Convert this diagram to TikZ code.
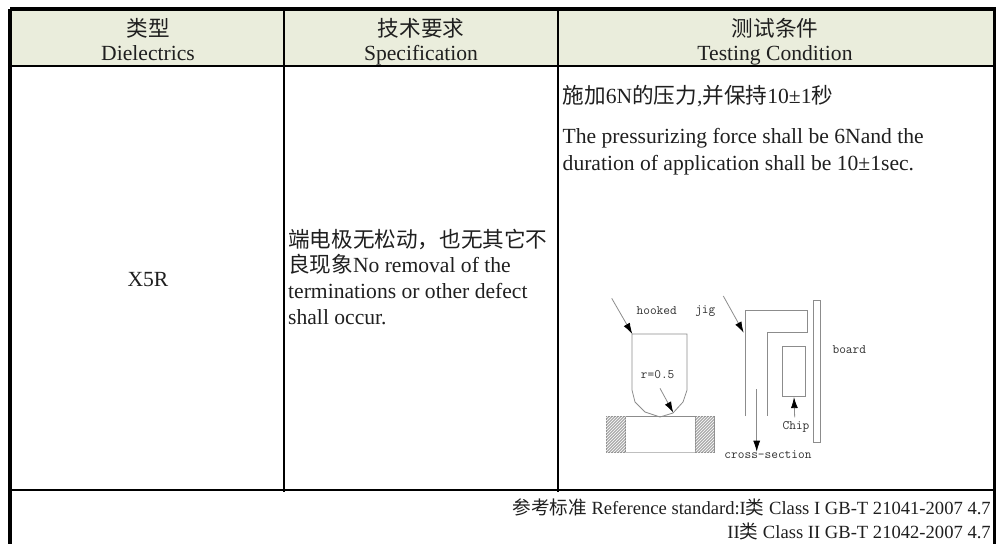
\documentclass[tikz,border=0pt]{standalone}
\usepackage{fontspec}
\setmainfont{Liberation Serif}
\newfontfamily\cjk{Noto Sans CJK SC}
\setmonofont{Latin Modern Mono}
\usetikzlibrary{arrows.meta,patterns}
\definecolor{headfill}{HTML}{EAEDDC}
\definecolor{drawgray}{HTML}{8C8C8C}
\definecolor{labelgray}{HTML}{303030}
\newcommand{\cn}[1]{{\cjk #1}}
\tikzset{
  x=1pt,y=-1pt,
  txt/.style={inner sep=0pt,font=\fontsize{21.6}{24}\selectfont,text=black!88},
  headtxt/.style={txt,anchor=base},
  lefttxt/.style={txt,anchor=base west},
  righttxt/.style={txt,anchor=base east,font=\fontsize{18.6}{22}\selectfont},
  thickrule/.style={line width=4pt,black},
  thinrule/.style={line width=2pt,black},
  drawline/.style={line width=0.8pt,drawgray},
  leader/.style={drawline,-{Latex[black,length=11pt,width=7pt]}},
  lbl/.style={inner sep=0pt,anchor=center,text=labelgray,font=\ttfamily\fontsize{13}{13}\selectfont},
  hatchbox/.style={draw=drawgray,line width=0.6pt,fill=black!32},
}
\begin{document}
\begin{tikzpicture}
\useasboundingbox (0,0) rectangle (996,544);
% header
\fill[headfill] (12,11) rectangle (993,66);
% rules
\coordinate (tl) at (10,9); \coordinate (tr) at (996,9);
\coordinate (bl) at (10,544); \coordinate (br) at (994.5,544);
\coordinate (trb) at (994.5,9);
\coordinate (hl) at (10,66); \coordinate (hr) at (994,66);
\coordinate (fl) at (10,490); \coordinate (fr) at (994,490);
\coordinate (c1t) at (284,9); \coordinate (c1b) at (284,492);
\coordinate (c2t) at (558,9); \coordinate (c2b) at (558,492);
\draw[thickrule] (tl) -- (tr);
\draw[thickrule] (tl) -- (bl);
\draw[thickrule] (trb) -- (br);
\draw[thinrule] (hl) -- (hr);
\draw[thinrule] (fl) -- (fr);
\draw[thinrule] (c1t) -- (c1b);
\draw[thinrule] (c2t) -- (c2b);
% headers
\node[headtxt] (h1a) at (148,36) {\cn{类型}};
\node[headtxt] (h1b) at (148,60) {Dielectrics};
\node[headtxt] (h2a) at (421,36) {\cn{技术要求}};
\node[headtxt] (h2b) at (421,60) {Specification};
\node[headtxt] (h3a) at (775,36) {\cn{测试条件}};
\node[headtxt] (h3b) at (775,60) {Testing Condition};
% body
\node[headtxt] (x5r) at (148,286) {X5R};
\node[lefttxt] (s1) at (288,247) {\cn{端电极无松动，也无其它不}};
\node[lefttxt] (s2) at (288,272) {\cn{良现象}No removal of the};
\node[lefttxt] (s3) at (288,298) {terminations or other defect};
\node[lefttxt] (s4) at (288,324) {shall occur.};
\node[lefttxt] (t1) at (562.5,103) {\cn{施加}6N\cn{的压力},\cn{并保持}10±1\cn{秒}};
\node[lefttxt] (t2) at (562.5,143) {The pressurizing force shall be 6Nand the};
\node[lefttxt] (t3) at (562.5,170) {duration of application shall be 10±1sec.};
\node[righttxt] (r1) at (991,514) {\cn{参考标准} Reference standard:I\cn{类} Class I GB-T 21041-2007 4.7};
\node[righttxt] (r2) at (991,538) {II\cn{类} Class II GB-T 21042-2007 4.7};
% hook
\draw[drawline] (632,334) -- (687,334) -- (687,390) -- (683,402) -- (673,413) -- (660,417) -- (645,412) -- (635,402) -- (632,390) -- cycle;
% block
\draw[drawline] (606,416) rectangle (714,452);
\draw[black!25,line width=1pt] (625,452) -- (695,452);
\draw[hatchbox] (606,416) rectangle (625.5,452);
\draw[hatchbox] (695.5,416) rectangle (714,452);
\fill[pattern=north east lines,pattern color=white] (606,416) rectangle (625.5,452);
\fill[pattern=north east lines,pattern color=white] (695.5,416) rectangle (714,452);
% jig
\draw[drawline] (745.7,416) -- (745.7,310.7) -- (807.3,310.7) -- (807.3,332) -- (767.3,332) -- (767.3,416);
% chip and board
\node[draw=drawgray,line width=0.8pt,inner sep=0pt,minimum width=23.4pt,minimum height=50.4pt] (chip) at (794,371.5) {};
\node[draw=drawgray,line width=0.8pt,inner sep=0pt,minimum width=7pt,minimum height=142pt] (board) at (816.8,371.7) {};
% leaders
\coordinate (a1s) at (611.7,298.3); \coordinate (a1e) at (632.3,334);
\coordinate (a2s) at (723.3,296); \coordinate (a2e) at (743.7,332.7);
\coordinate (a3s) at (660,388.3); \coordinate (a3e) at (673.3,412.7);
\coordinate (a4s) at (756.7,389.3); \coordinate (a4e) at (756.7,451.7);
\coordinate (a5s) at (794.7,417.3);
\draw[leader] (a1s) -- (a1e);
\draw[leader] (a2s) -- (a2e);
\draw[leader] (a3s) -- (a3e);
\draw[leader] (a4s) -- (a4e);
\draw[leader] (a5s) -- (chip.south);
% labels
\node[lbl] (l1) at (656.7,310.7) {hooked};
\node[lbl] (l2) at (705.3,310.7) {jig};
\node[lbl] (l3) at (849.3,350) {board};
\node[lbl] (l4) at (796,427) {Chip};
\node[lbl] (l5) at (768,455) {cross-section};
\node[lbl] (l6) at (657.7,375) {r=0.5};
\end{tikzpicture}
\end{document}
